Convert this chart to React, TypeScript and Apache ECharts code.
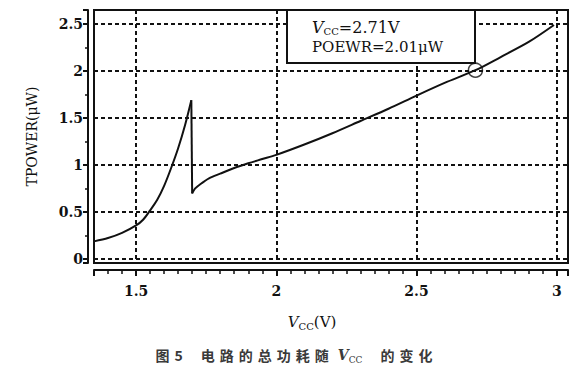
import React, { useEffect, useRef } from "react";
import * as echarts from "echarts";

// Rising branch (before the sudden drop)
const riseVcc = [1.35, 1.4, 1.45, 1.5, 1.525, 1.55, 1.575, 1.6, 1.625, 1.65, 1.675, 1.697];
const risePower = [0.19, 0.225, 0.28, 0.36, 0.42, 0.52, 0.63, 0.78, 0.97, 1.18, 1.43, 1.69];
// Branch after the drop
const fallVcc = [1.7, 1.71, 1.73, 1.76, 1.8, 1.85, 1.9, 1.95, 2.0, 2.1, 2.2, 2.3, 2.4, 2.5, 2.6, 2.71, 2.8, 2.9, 2.99];
const fallPower = [0.7, 0.75, 0.8, 0.86, 0.91, 0.97, 1.02, 1.065, 1.11, 1.22, 1.34, 1.47, 1.6, 1.74, 1.875, 2.01, 2.15, 2.31, 2.49];
const markerVcc = [2.71];
const markerPower = [2.01];
const xRange = [1.35, 3.04];
const yRange = [-0.04, 2.65];

const SERIF = "'DejaVu Serif', 'Liberation Serif', serif";
const CJK = "'Noto Sans CJK SC', sans-serif";

export default function App() {
  const ref = useRef<HTMLDivElement>(null);
  useEffect(() => {
    if (!ref.current) return;
    const chart = echarts.init(ref.current, undefined, { renderer: "svg" });
    const fmt = (v: number) => {
      const r = Math.round(v * 2) / 2;
      if (Math.abs(v - r) > 1e-6) return "";
      return String(r);
    };
    const spaced = (s: string) =>
      s
        .split("")
        .map((ch) => `{c|${ch}}`)
        .join("{g| }");
    const caption =
      "{c|图}{g| }{c|5}{w| }" +
      spaced("电路的总功耗随") +
      "{m| }{i|V}{s|CC}{w| }" +
      spaced("的变化");
    const sub = (fs: number, col: string) => ({
      fontFamily: SERIF,
      fontSize: fs,
      fill: col,
      lineHeight: fs,
      verticalAlign: "bottom",
    });
    chart.setOption({
      animation: false,
      backgroundColor: "#ffffff",
      grid: {
        left: 94,
        right: 12,
        top: 10,
        bottom: 117,
        show: true,
        borderColor: "#111",
        borderWidth: 2,
        backgroundColor: "transparent",
      },
      xAxis: {
        type: "value",
        min: xRange[0],
        max: xRange[1],
        splitNumber: 3,
        offset: 7,
        axisLine: { show: true, onZero: false, lineStyle: { color: "#111", width: 2 } },
        axisTick: { show: true, length: 6, lineStyle: { color: "#111", width: 2 } },
        minorTick: { show: true, splitNumber: 10, length: 4, lineStyle: { color: "#111", width: 1.5 } },
        axisLabel: {
          show: true,
          showMinLabel: false,
          showMaxLabel: false,
          margin: 14,
          color: "#111",
          fontFamily: SERIF,
          fontWeight: "bold",
          fontSize: 14,
          formatter: fmt,
        },
        splitLine: { show: true, lineStyle: { color: "#111", width: 2, type: [4, 3] } },
      },
      yAxis: {
        type: "value",
        min: yRange[0],
        max: yRange[1],
        splitNumber: 5,
        offset: 6,
        name: "TPOWER(μW)",
        nameLocation: "middle",
        nameGap: 49,
        nameTextStyle: { color: "#111", fontFamily: SERIF, fontSize: 14 },
        axisLine: { show: true, lineStyle: { color: "#111", width: 2 } },
        axisTick: { show: true, length: 5, lineStyle: { color: "#111", width: 2 } },
        minorTick: { show: true, splitNumber: 2, length: 3, lineStyle: { color: "#111", width: 1.5 } },
        axisLabel: {
          show: true,
          showMinLabel: false,
          showMaxLabel: false,
          margin: 5,
          color: "#111",
          fontFamily: SERIF,
          fontWeight: "bold",
          fontSize: 14,
          formatter: fmt,
        },
        splitLine: { show: true, lineStyle: { color: "#111", width: 2, type: [4, 3] } },
      },
      series: [
        {
          type: "line",
          data: riseVcc.map((v, i) => [v, risePower[i]]),
          showSymbol: false,
          symbol: "none",
          smooth: 0.3,
          lineStyle: { color: "#111", width: 2 },
          z: 3,
        },
        {
          type: "line",
          data: [
            [riseVcc[riseVcc.length - 1], risePower[risePower.length - 1]],
            [fallVcc[0], fallPower[0]],
          ],
          showSymbol: false,
          symbol: "none",
          lineStyle: { color: "#111", width: 2 },
          z: 3,
        },
        {
          type: "line",
          data: fallVcc.map((v, i) => [v, fallPower[i]]),
          showSymbol: false,
          symbol: "none",
          smooth: 0.3,
          lineStyle: { color: "#111", width: 2 },
          z: 3,
        },
        {
          type: "scatter",
          data: markerVcc.map((v, i) => [v, markerPower[i]]),
          symbol: "circle",
          symbolSize: 14,
          itemStyle: { color: "transparent", borderColor: "#111", borderWidth: 1.5 },
          z: 4,
        },
      ],
      graphic: [
        {
          type: "rect",
          shape: { x: 287, y: 10, width: 188, height: 53 },
          style: { fill: "#fff", stroke: "#111", lineWidth: 2 },
          z: 100,
        },
        {
          type: "text",
          x: 312,
          y: 27,
          z: 101,
          style: {
            text: "{i|V}{s|CC}{n|=2.71V}",
            verticalAlign: "middle",
            rich: {
              i: { fontFamily: SERIF, fontSize: 16, fontStyle: "italic", fill: "#111", lineHeight: 18 },
              s: sub(10, "#111"),
              n: { fontFamily: SERIF, fontSize: 16, fill: "#111", lineHeight: 18 },
            },
          },
        },
        {
          type: "text",
          x: 312,
          y: 47,
          z: 101,
          style: {
            text: "POEWR=2.01μW",
            verticalAlign: "middle",
            fontFamily: SERIF,
            fontSize: 15,
            fill: "#111",
          },
        },
        {
          type: "text",
          x: 312,
          y: 322,
          style: {
            text: "{i|V}{s|CC}{n|(V)}",
            align: "center",
            verticalAlign: "middle",
            rich: {
              i: { fontFamily: SERIF, fontSize: 15, fontStyle: "italic", fill: "#111", lineHeight: 18 },
              s: sub(10, "#111"),
              n: { fontFamily: SERIF, fontSize: 15, fill: "#111", lineHeight: 18 },
            },
          },
        },
        {
          type: "text",
          x: 294,
          y: 355,
          style: {
            text: caption,
            align: "center",
            verticalAlign: "middle",
            rich: {
              c: { fontFamily: CJK, fontSize: 14, fontWeight: "bold", fill: "#3a3a3a", lineHeight: 18 },
              g: { fontFamily: CJK, fontSize: 14, width: 5, lineHeight: 18 },
              m: { fontFamily: CJK, fontSize: 14, width: 9, lineHeight: 18 },
              w: { fontFamily: CJK, fontSize: 14, width: 18, lineHeight: 18 },
              i: { fontFamily: SERIF, fontSize: 14, fontStyle: "italic", fontWeight: "bold", fill: "#3a3a3a", lineHeight: 18 },
              s: sub(9, "#3a3a3a"),
            },
          },
        },
      ],
    });
    return () => chart.dispose();
  }, []);
  return <div ref={ref} style={{ width: 580, height: 380, position: "absolute", left: 0, top: 0 }} />;
}
